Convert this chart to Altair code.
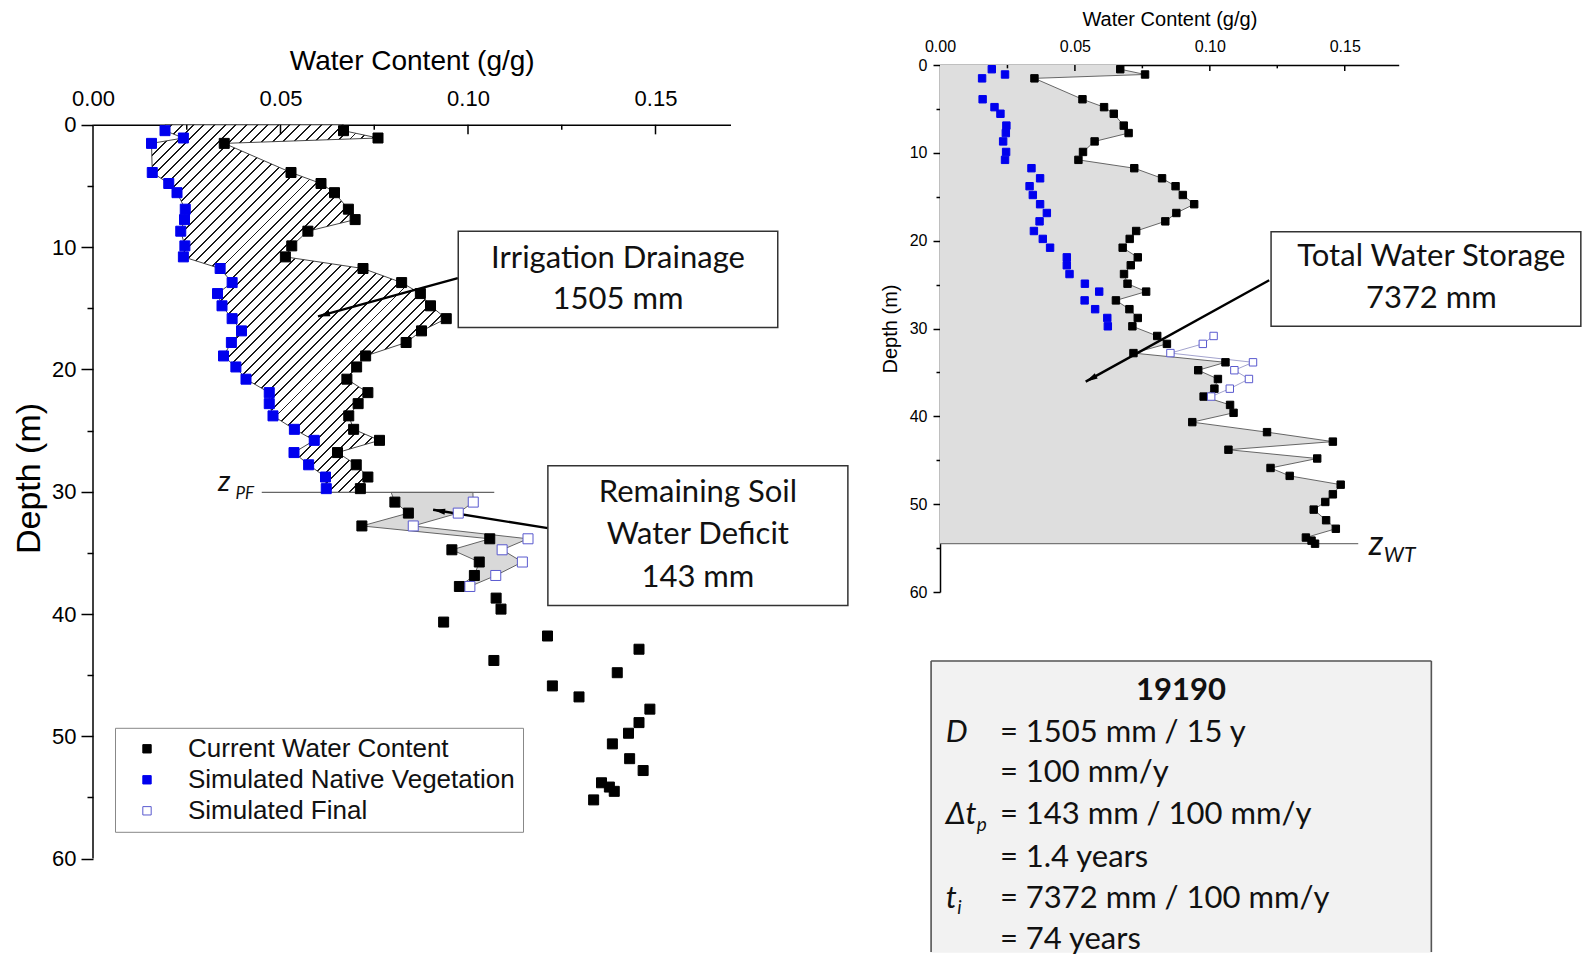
import math
import altair as alt
import pandas as pd

# ---------------- data ----------------
depth = [0.48, 1.08, 1.52, 3.9, 4.8, 5.55, 6.9, 7.75, 8.7, 9.9, 10.8, 11.75, 12.9, 13.8,
         14.8, 15.85, 16.85, 17.8, 18.9, 19.8, 20.8, 21.9, 22.8, 23.8, 24.9, 25.8, 26.8,
         27.8, 28.8, 29.75, 30.85, 31.75, 32.8, 33.85, 34.75, 35.75, 36.85, 37.75, 38.7,
         39.6, 40.66, 41.8, 42.88, 43.8, 44.8, 45.88, 46.78, 47.78, 48.88, 49.75, 50.62,
         51.83, 52.8, 53.8, 54.15, 54.5, 55.2]
current = [0.0668, 0.0760, 0.0350, 0.0528, 0.0608, 0.0644, 0.0681, 0.0699, 0.0573, 0.0530,
           0.0513, 0.0720, 0.0823, 0.0873, 0.0900, 0.0942, 0.0876, 0.0835, 0.0727, 0.0703,
           0.0677, 0.0733, 0.0707, 0.0682, 0.0695, 0.0764, 0.0652, 0.0702, 0.0733, 0.0713,
           0.0805, 0.0841, 0.0717, 0.1058, 0.0957, 0.1030, 0.1017, 0.0977, 0.1075, 0.1088,
           0.0935, 0.1212, 0.1456, 0.1069, 0.1398, 0.1225, 0.1296, 0.1485, 0.1456, 0.1428,
           0.1385, 0.1431, 0.1467, 0.1356, 0.1377, 0.1390, 0.1335]
native = [0.0192, 0.0241, 0.0156, 0.0158, 0.0202, 0.0224, 0.0246, 0.0244, 0.0234, 0.0245,
          0.0241, 0.0339, 0.0371, 0.0332, 0.0344, 0.0371, 0.0396, 0.0369, 0.0348, 0.0381,
          0.0408, 0.0470, 0.0470, 0.0480, 0.0537, 0.0590, 0.0536, 0.0575, 0.0620, 0.0622]
final = [0.1014, 0.0974, 0.0854, 0.1160, 0.1091, 0.1145, 0.1074, 0.1005]
final_depth = depth[30:38]

SERIES = ["Current Water Content", "Simulated Native Vegetation", "Simulated Final"]
Z_PF = 30.06
Z_WT = 54.5
PF_TOP = [0.0795, 0.1013]          # fill edges of the deficit band at z_PF
PF_LINE = [0.045, 0.107]
WT_LINE = [0.0, 0.155]

# ---------------- geometry / style ----------------
XMAX = 0.17
LW, LH = 637.5, 733.8          # left plot (depth 0..60)
RW, RH = 458.7, 527.0          # right plot (depth 0..60)
L_SHIFT = 59.8                 # left plot starts lower than the right one (px)
AX_FONT = "Liberation Sans"
TX_FONT = "Lato"
BLUE = "#0000ee"
OPEN = "#5a5acf"

pxL, pyL = LW / XMAX, LH / 60.0
pxR, pyR = RW / XMAX, RH / 60.0
L_TOP = -L_SHIFT / pyL          # depth shown at the very top of the left view

# ---------------- tables ----------------
pts = pd.DataFrame(
    [{"d": d, "v": v, "series": SERIES[0]} for d, v in zip(depth, current)]
    + [{"d": d, "v": v, "series": SERIES[1]} for d, v in zip(depth[:30], native)]
    + [{"d": d, "v": v, "series": SERIES[2]} for d, v in zip(final_depth, final)]
)
pts_r = pts[pts["d"] <= Z_WT + 0.1]

hatch = pd.DataFrame({
    "d": [0.0] + depth[:30] + [Z_PF],
    "lo": [native[0]] + native + [native[-1]],
    "hi": [current[0]] + current[:30] + [current[29]],
})
band = pd.DataFrame({
    "d": [Z_PF] + final_depth,
    "lo": [PF_TOP[0]] + current[30:38],
    "hi": [PF_TOP[1]] + final,
})
store = pd.DataFrame({
    "d": [0.0] + [d for d in depth if d <= Z_WT],
    "lo": 0.0,
    "hi": [current[0]] + [c for d, c in zip(depth, current) if d <= Z_WT],
})
cur_r = pd.DataFrame({"d": [d for d in depth if d <= Z_WT],
                      "v": [c for d, c in zip(depth, current) if d <= Z_WT]})
fin_df = pd.DataFrame({"d": final_depth, "v": final})

# hatch gradient (45 degree stripes, relative to the area's bounding box)
W = (max(hatch["hi"]) - min(hatch["lo"])) * pxL
H = Z_PF * pyL
r = W / H
gb = (r + 1) / (r * r + 1)
ga = r * gb
N = int(round((W + H) / math.sqrt(2) / 7.6))
f = 0.18
stops = []
for i in range(N):
    s0, s1, s2 = i / N, (i + 1 - f) / N, (i + 1) / N
    stops += [alt.GradientStop(offset=s0, color="white"),
              alt.GradientStop(offset=s1, color="white"),
              alt.GradientStop(offset=s1, color="#1a1a1a"),
              alt.GradientStop(offset=s2, color="#1a1a1a")]
hatch_fill = alt.Gradient(gradient="linear", stops=stops, x1=0, y1=0, x2=ga, y2=gb)

# ---------------- scales / axes ----------------
SX = alt.Scale(domain=[0, XMAX], nice=False, zero=False)
SYL = alt.Scale(domain=[L_TOP, 60], reverse=True, nice=False, zero=False)
SYR = alt.Scale(domain=[0, 60], reverse=True, nice=False, zero=False)


def axes(lab, tit, ytit, tick_big, tick_small, lpad_x, tpad_x, lpad_y, tpad_y, xoff,
         ydomain, ytitle_y=None):
    ax = alt.Axis(orient="top", values=[0, 0.05, 0.10, 0.15], format=".2f", ticks=False,
                  labelFontSize=lab, labelPadding=lpad_x, labelFlush=False, offset=xoff,
                  title="Water Content (g/g)", titleFontSize=tit, titlePadding=tpad_x,
                  domainWidth=1.5, domainColor="black", labelColor="black",
                  titleColor="black", grid=False)
    extra = {} if ytitle_y is None else {"titleY": ytitle_y}
    ay = alt.Axis(values=list(range(0, 61, 5)),
                  labelExpr="datum.value % 10 === 0 ? datum.label : ''",
                  tickSize={"condition": {"test": "datum.value % 10 === 0", "value": tick_big},
                            "value": tick_small},
                  tickWidth=1.5, tickColor="black", labelFontSize=lab, labelPadding=lpad_y,
                  labelFlush=False, title="Depth (m)", titleFontSize=ytit,
                  titlePadding=tpad_y, domain=ydomain, domainWidth=1.5, domainColor="black",
                  labelColor="black", titleColor="black", grid=False, **extra)
    return ax, ay


AXL, AYL = axes(22, 28, 34, 12, 6, 14, 12, 5, 5, -L_SHIFT, False, ytitle_y=413)
AXR, AYR = axes(16, 20, 20, 7, 4, 11, 9, 6, 9, 0, True)


def encL(xf="x", yf="y"):
    return dict(x=alt.X(f"{xf}:Q", scale=SX, axis=AXL), y=alt.Y(f"{yf}:Q", scale=SYL, axis=AYL))


def encR(xf="x", yf="y"):
    return dict(x=alt.X(f"{xf}:Q", scale=SX, axis=AXR), y=alt.Y(f"{yf}:Q", scale=SYR, axis=AYR))


def texts(rows, enc, size, style="normal", weight="normal", align="center",
          baseline="middle", font=TX_FONT, color="#111111"):
    df = pd.DataFrame(rows, columns=["x", "y", "t"])
    return alt.Chart(df).mark_text(font=font, fontSize=size, fontStyle=style, fontWeight=weight,
                                   align=align, baseline=baseline, color=color).encode(
        text="t:N", **enc())


def box(x0, y0, x1, y1, enc, fill="white", stroke="#333333"):
    df = pd.DataFrame({"x": [x0], "x2": [x1], "y": [y0], "y2": [y1]})
    return alt.Chart(df).mark_rect(fill=fill, stroke=stroke, strokeWidth=1.5).encode(
        x2="x2:Q", y2="y2:Q", **enc())


def arrow(x0, y0, x1, y1, px, py, enc):
    dx, dy = (x1 - x0) * px, (y1 - y0) * py
    ang = math.degrees(math.atan2(dx, -dy)) % 360
    line = pd.DataFrame({"x": [x0], "y": [y0], "x2": [x1], "y2": [y1]})
    head = pd.DataFrame({"x": [x1], "y": [y1], "a": [ang]})
    l = alt.Chart(line).mark_rule(color="black", strokeWidth=2.4).encode(
        x2="x2:Q", y2="y2:Q", **enc())
    h = alt.Chart(head).mark_point(shape="M0,0 L0.42,1.7 L-0.42,1.7 Z", filled=True,
                                   color="black", opacity=1, size=200).encode(
        angle=alt.Angle("a:Q", scale=None), **enc())
    return l + h


def xticks(major, minor, enc):
    rows = [{"x": v, "y": 0.0, "y2": major if i % 2 else minor}
            for i, v in enumerate([0.025, 0.05, 0.075, 0.10, 0.125, 0.15])]
    return alt.Chart(pd.DataFrame(rows)).mark_rule(color="black", strokeWidth=1.5).encode(
        y2="y2:Q", **enc())


# ---------------- left panel ----------------
L_hatch = alt.Chart(hatch).mark_area(orient="horizontal", fill=hatch_fill, stroke="#333333",
                                     strokeWidth=0.9).encode(x2="hi:Q", **encL("lo", "d"))
L_band = alt.Chart(band).mark_area(orient="horizontal", fill="#d9d9d9", stroke="#555555",
                                   strokeWidth=0.9).encode(x2="hi:Q", **encL("lo", "d"))
L_pf = alt.Chart(pd.DataFrame({"x": [PF_LINE[0]], "x2": [PF_LINE[1]], "y": [Z_PF]})).mark_rule(
    color="#666666", strokeWidth=1.2).encode(x2="x2:Q", **encL())
L_yline = alt.Chart(pd.DataFrame({"x": [0.0], "y": [0.0], "y2": [60.0]})).mark_rule(
    color="black", strokeWidth=1.5).encode(y2="y2:Q", **encL())

legend = alt.Legend(title=None, orient="none", legendX=22, legendY=603 + L_SHIFT,
                    strokeColor="#888888", fillColor="white", padding=8, symbolOffset=11,
                    labelOffset=28, labelFontSize=26, labelFont=AX_FONT, labelColor="#111111",
                    symbolSize=70, symbolStrokeWidth=1, rowPadding=5, labelLimit=0)
L_pts = alt.Chart(pts).mark_point(shape="square", filled=True, size=100, strokeWidth=1,
                                  opacity=1).encode(
    fill=alt.Fill("series:N", scale=alt.Scale(domain=SERIES, range=["black", BLUE, "white"]),
                  legend=legend),
    stroke=alt.Stroke("series:N", scale=alt.Scale(domain=SERIES, range=["black", BLUE, OPEN]),
                      legend=legend),
    **encL("v", "d"))

L_boxes = box(0.0974, 8.7, 0.1826, 16.57, encL) + box(0.1213, 27.88, 0.2013, 39.31, encL)
L_arrows = (arrow(0.0973, 12.53, 0.0600, 15.67, pxL, pyL, encL)
            + arrow(0.1213, 32.98, 0.0907, 31.48, pxL, pyL, encL))
L_text = texts([(0.14, 10.94, "Irrigation Drainage"), (0.14, 14.34, "1505 mm"),
                (0.1613, 30.09, "Remaining Soil"), (0.1613, 33.5, "Water Deficit"),
                (0.1613, 37.07, "143 mm")], encL, 31)
L_z = (texts([(0.0333, 29.98, "z")], encL, 29, style="italic", align="left",
             baseline="alphabetic")
       + texts([(0.0380, 30.6, "PF")], encL, 17, style="italic", align="left",
               baseline="alphabetic"))

left = alt.layer(L_hatch, L_band, L_pf, L_yline, xticks(0.78, 0.41, encL), L_arrows, L_pts,
                 L_boxes, L_text, L_z).properties(width=LW, height=LH + L_SHIFT)

# ---------------- right panel ----------------
R_store = alt.Chart(store).mark_area(orient="horizontal", fill="#dedede").encode(
    x2="hi:Q", **encR("lo", "d"))
R_line = alt.Chart(cur_r).mark_line(color="#444444", strokeWidth=0.8).encode(
    order="d:Q", **encR("v", "d"))
R_fline = alt.Chart(fin_df).mark_line(color="#8a8ac0", strokeWidth=0.8).encode(
    order="d:Q", **encR("v", "d"))
R_wt = alt.Chart(pd.DataFrame({"x": [WT_LINE[0]], "x2": [WT_LINE[1]], "y": [Z_WT]})).mark_rule(
    color="#777777", strokeWidth=1.2).encode(x2="x2:Q", **encR())
R_pts = alt.Chart(pts_r).mark_point(shape="square", filled=True, size=55, strokeWidth=1,
                                    opacity=1).encode(
    fill=alt.Fill("series:N", scale=alt.Scale(domain=SERIES, range=["black", BLUE, "white"]),
                  legend=None),
    stroke=alt.Stroke("series:N", scale=alt.Scale(domain=SERIES, range=["black", BLUE, OPEN]),
                      legend=None),
    **encR("v", "d"))
R_box = box(0.1227, 18.98, 0.2375, 29.73, encR)
R_arrow = arrow(0.122, 24.5, 0.054, 36.05, pxR, pyR, encR)
R_text = texts([(0.1821, 21.87, "Total Water Storage"), (0.1821, 26.6, "7372 mm")], encR, 31)
R_z = (texts([(0.1589, 55.79, "z")], encR, 34, style="italic", align="left",
             baseline="alphabetic")
       + texts([(0.1645, 56.6, "WT")], encR, 21, style="italic", align="left",
               baseline="alphabetic"))

# info box
IB = (-0.0033, 67.86, 0.1821, 101.0)
info_bg = box(IB[0], IB[1], IB[2], IB[3], encR, fill="#f2f2f2", stroke="#f2f2f2")
info_edges = alt.Chart(pd.DataFrame({
    "x": [IB[0], IB[0], IB[2]], "x2": [IB[0], IB[2], IB[2]],
    "y": [IB[1], IB[1], IB[1]], "y2": [IB[3], IB[1], IB[3]]})).mark_rule(
    color="#555555", strokeWidth=1.6).encode(x2="x2:Q", y2="y2:Q", **encR())
EQ_X = 0.0222
SYM_X = 0.0021
info_title = texts([(0.0893, 71.3, "19190")], encR, 31, weight="bold")
info_lines = texts([(EQ_X, 76.1, "= 1505 mm / 15 y"), (EQ_X, 80.65, "= 100 mm/y"),
                    (EQ_X, 85.4, "= 143 mm / 100 mm/y"), (EQ_X, 90.3, "= 1.4 years"),
                    (EQ_X, 94.9, "= 7372 mm / 100 mm/y"), (EQ_X, 99.6, "= 74 years")],
                   encR, 31, align="left")
info_syms = texts([(SYM_X, 76.1, "D"), (SYM_X, 85.4, "Δt"), (SYM_X, 94.9, "t")],
                  encR, 31, style="italic", align="left")
info_subs = texts([(0.0136, 86.5, "p"), (0.0064, 96.0, "i")], encR, 19,
                  style="italic", align="left")

right = alt.layer(R_store, R_line, R_fline, R_wt, xticks(0.68, 0.38, encR), R_arrow,
                  R_pts, R_box, R_text, R_z, info_bg, info_edges, info_title, info_lines,
                  info_syms, info_subs).properties(width=RW, height=RH)

chart = alt.hconcat(left, right, spacing=31).properties(
    padding={"left": 4, "top": 1, "right": 0, "bottom": 0}
).configure_view(stroke=None).configure_axis(
    labelFont=AX_FONT, titleFont=AX_FONT, titleFontWeight="normal"
).configure_title(font=AX_FONT)

chart.save("out.html", embed_options={"renderer": "svg", "actions": False})
